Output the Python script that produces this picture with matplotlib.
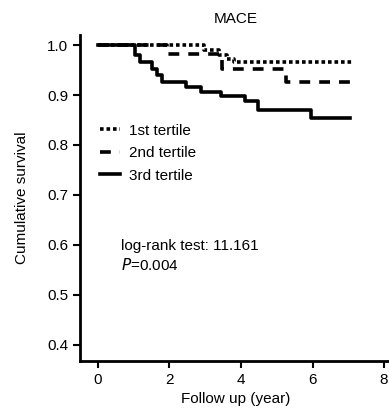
import numpy as np
import matplotlib
matplotlib.use('Agg')
from matplotlib import pyplot as plt

# Kaplan-Meier step curves (time in years, survival)
t1 = [0, 2.96, 3.1, 3.38, 3.62, 3.8, 7.1]
s1 = [1.0, 0.99, 0.99, 0.98, 0.973, 0.966, 0.966]

t2 = [0, 1.93, 3.48, 5.27, 7.1]
s2 = [1.0, 0.983, 0.953, 0.926, 0.926]

t3 = [0, 1.04, 1.18, 1.51, 1.65, 1.79, 2.45, 2.87, 3.44, 4.1, 4.47, 5.97, 7.04]
s3 = [1.0, 0.98, 0.967, 0.953, 0.94, 0.927, 0.917, 0.907, 0.897, 0.887, 0.87, 0.854, 0.854]

labels = ['1st tertile', '2nd tertile', '3rd tertile']
xticks = [0, 2, 4, 6, 8]
yticks = [0.4, 0.5, 0.6, 0.7, 0.8, 0.9, 1.0]

plt.rcParams['font.family'] = ['Liberation Sans', 'DejaVu Sans']
fs = 11

fig = plt.figure(figsize=(3.89, 4.12), dpi=100)
ax = fig.add_axes([0.2057, 0.124, 0.80, 0.791])

ax.step(t1, s1, where='post', color='black', lw=2.6, ls=(0, (1, 0.8)), label=labels[0])
ax.step(t2, s2, where='post', color='black', lw=2.6, ls=(0, (3, 2.5)), label=labels[1])
ax.step(t3, s3, where='post', color='black', lw=2.6, ls='-', label=labels[2])

ax.set_xlim(-0.5, 8.2)
ax.set_ylim(0.368, 1.02)
ax.set_xticks(xticks)
ax.set_yticks(yticks)
ax.set_yticklabels(['%.1f' % v for v in yticks])
ax.tick_params(labelsize=fs, width=1.5, length=5, direction='out')
for s in ['top', 'right']:
    ax.spines[s].set_visible(False)
for s in ['left', 'bottom']:
    ax.spines[s].set_linewidth(2)

ax.set_title('MACE', fontsize=fs, pad=9)
ax.set_xlabel('Follow up (year)', fontsize=fs, labelpad=4)
ax.set_ylabel('Cumulative survival', fontsize=fs, labelpad=13)

ax.legend(loc='upper left', bbox_to_anchor=(0.02, 0.77), frameon=False,
          fontsize=fs, handlelength=1.3, handletextpad=0.6, labelspacing=0.55)

ax.text(0.65, 0.59, 'log-rank test: 11.161', fontsize=fs)
ax.text(0.65, 0.55, '$\\it{P}$=0.004', fontsize=fs)

plt.savefig('out.png', dpi=100)
